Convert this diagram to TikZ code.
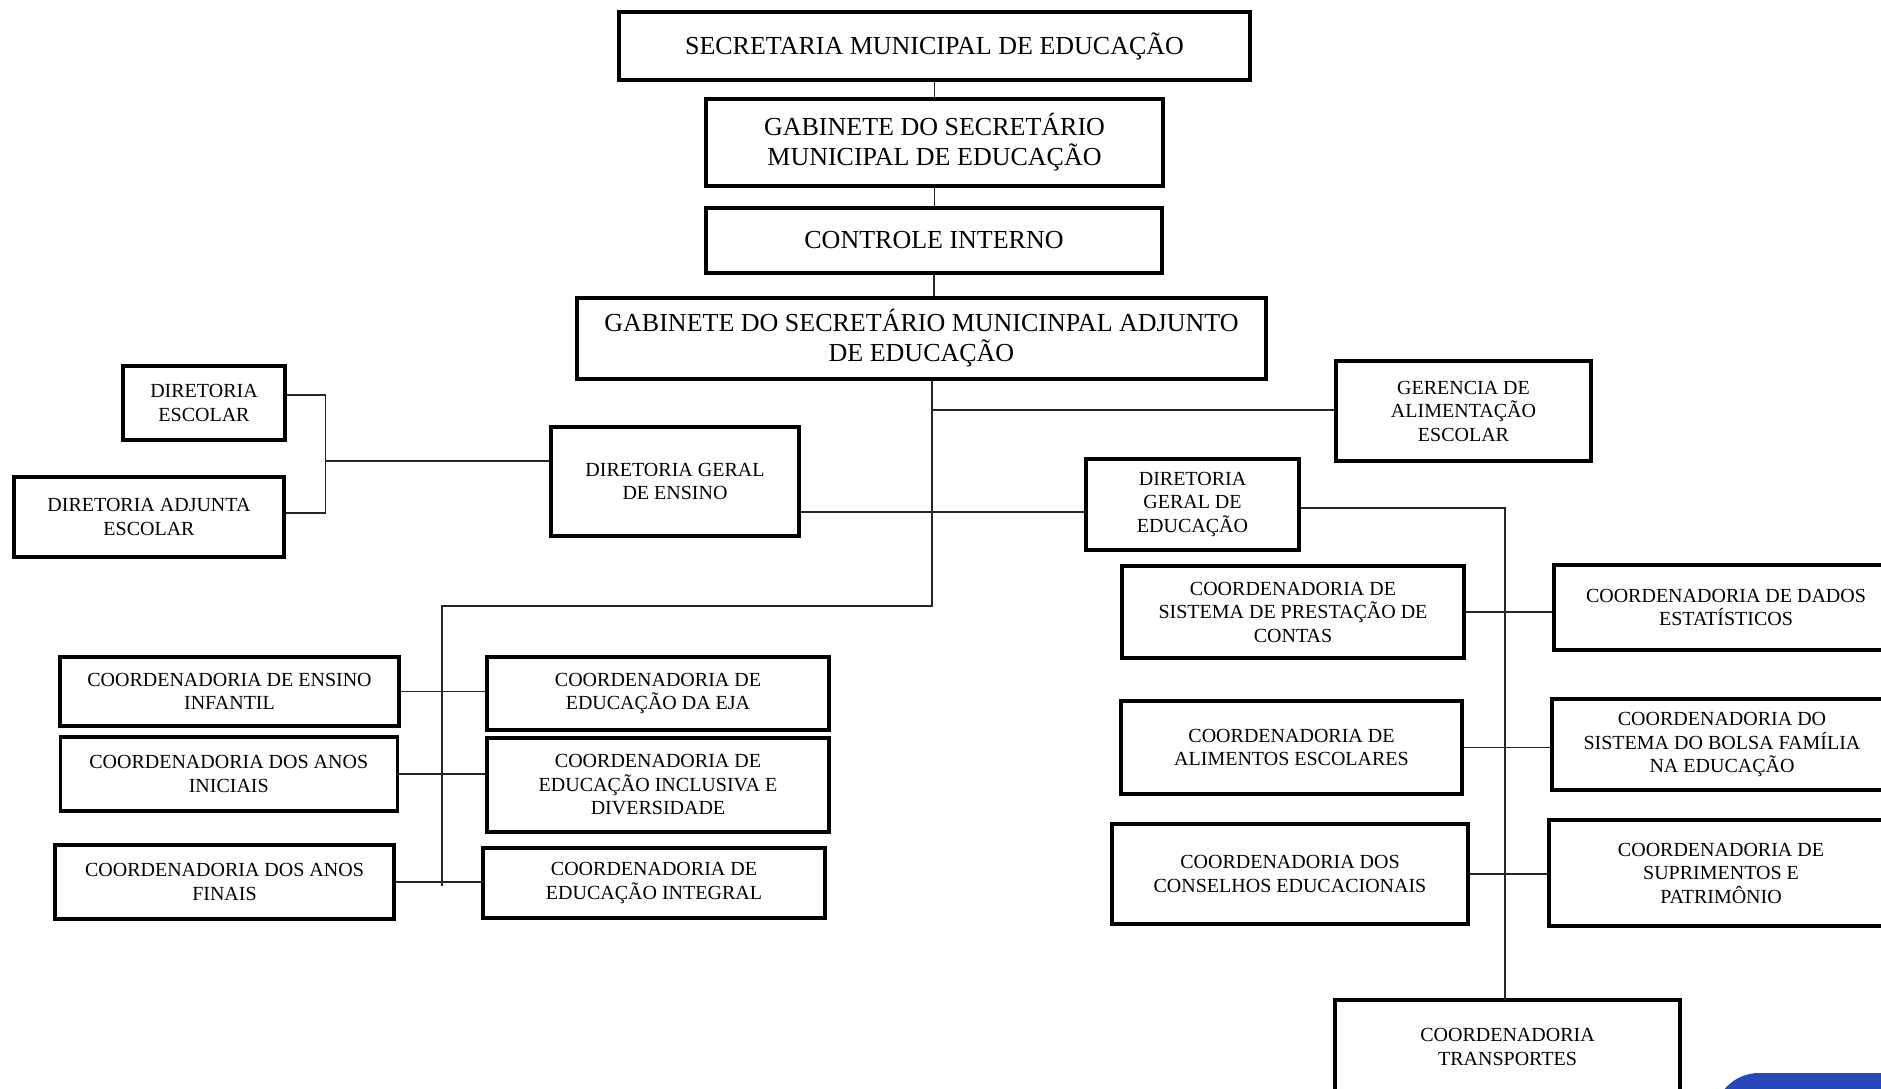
\documentclass[tikz,border=0pt]{standalone}
\usepackage{fontspec}
\setmainfont{Liberation Serif}
\definecolor{blobblue}{RGB}{40,72,185}
\tikzset{
  box/.style={draw=black, line width=3.5pt, fill=white, align=center, inner sep=0pt,
    font=\fontsize{20}{23.5}\selectfont},
  bigbox/.style={box, font=\fontsize{26}{30}\selectfont},
  conn/.style={line width=1.7pt, draw=black!85},
}
\begin{document}
\begin{tikzpicture}[x=1pt,y=-1pt]
\useasboundingbox (0,0) rectangle (1881,1089);
\clip (0,0) rectangle (1881,1089);
\fill[white] (0,0) rectangle (1881,1089);

% top chain
\node[bigbox, minimum width=631pt, minimum height=68pt] (sec) at (934.5,46) {SECRETARIA MUNICIPAL DE EDUCAÇÃO};
\node[bigbox, minimum width=457pt, minimum height=87pt] (gab) at (934.5,142.5) {GABINETE DO SECRETÁRIO\\MUNICIPAL DE EDUCAÇÃO};
\node[bigbox, minimum width=456pt, minimum height=65pt] (ctrl) at (934,240.5) {CONTROLE INTERNO};
\node[bigbox, minimum width=689pt, minimum height=81pt] (gabadj) at (921.5,338.5) {GABINETE DO SECRETÁRIO MUNICINPAL ADJUNTO\\DE EDUCAÇÃO};

% left upper
\node[box, minimum width=162pt, minimum height=74pt] (dirEsc) at (204,403) {DIRETORIA\\ESCOLAR};
\node[box, minimum width=270pt, minimum height=80pt] (dirAdj) at (149,517) {DIRETORIA ADJUNTA\\ESCOLAR};
\node[box, minimum width=248pt, minimum height=109pt] (dge) at (675,481.5) {DIRETORIA GERAL\\DE ENSINO};

% right upper
\node[box, minimum width=255pt, minimum height=100pt] (ger) at (1463.5,411) {GERENCIA DE\\ALIMENTAÇÃO\\ESCOLAR};
\node[box, minimum width=213pt, minimum height=91pt] (dged) at (1192.5,504.5) {DIRETORIA\\GERAL DE\\EDUCAÇÃO};

% left coordinations
\node[box, minimum width=339pt, minimum height=69pt] (inf) at (229.5,691.5) {COORDENADORIA DE ENSINO\\INFANTIL};
\node[box, minimum width=337pt, minimum height=74pt] (ini) at (228.75,774) {COORDENADORIA DOS ANOS\\INICIAIS};
\node[box, minimum width=339pt, minimum height=74pt] (fin) at (224.5,882) {COORDENADORIA DOS ANOS\\FINAIS};
\node[box, minimum width=342pt, minimum height=73pt] (eja) at (658,693.5) {COORDENADORIA DE\\EDUCAÇÃO DA EJA};
\node[box, minimum width=342pt, minimum height=94pt] (incl) at (658,785) {COORDENADORIA DE\\EDUCAÇÃO INCLUSIVA E\\DIVERSIDADE};
\node[box, minimum width=342pt, minimum height=70pt] (integ) at (654,883) {COORDENADORIA DE\\EDUCAÇÃO INTEGRAL};

% right coordinations
\node[box, minimum width=342pt, minimum height=92pt] (prest) at (1293,612) {COORDENADORIA DE\\SISTEMA DE PRESTAÇÃO DE\\CONTAS};
\node[box, minimum width=344pt, minimum height=85pt] (dados) at (1726,607.5) {COORDENADORIA DE DADOS\\ESTATÍSTICOS};
\node[box, minimum width=341pt, minimum height=93pt] (alim) at (1291.5,747.5) {COORDENADORIA DE\\ALIMENTOS ESCOLARES};
\node[box, minimum width=340pt, minimum height=91pt] (bolsa) at (1722,744.5) {COORDENADORIA DO\\SISTEMA DO BOLSA FAMÍLIA\\NA EDUCAÇÃO};
\node[box, minimum width=356pt, minimum height=100pt] (cons) at (1290,874) {COORDENADORIA DOS\\CONSELHOS EDUCACIONAIS};
\node[box, minimum width=344pt, minimum height=106pt] (sup) at (1721,873) {COORDENADORIA DE\\SUPRIMENTOS E\\PATRIMÔNIO};
\node[box, minimum width=345pt, minimum height=94pt] (transp) at (1507.5,1047) {COORDENADORIA\\TRANSPORTES};

% junction coordinates
\coordinate (mvb) at (932,606);
\coordinate (gj) at (932,410);
\coordinate (hl) at (932,512);
\coordinate (lvb) at (442,606);
\coordinate (lve) at (442,886);
\coordinate (bT) at (325.5,395);
\coordinate (bB) at (325.5,513);
\coordinate (bM) at (325.5,461);
\coordinate (rv) at (1505,508);
\coordinate (rvb) at (1505,1000);

% connectors
\draw[conn] (sec.south -| gab.north) -- (gab.north);
\draw[conn] (gab.south) -- (ctrl.north -| gab.south);
\draw[conn] (ctrl.south) -- (gabadj.north -| ctrl.south);
\draw[conn] (gabadj.south -| mvb) -- (mvb) -- (lvb) -- (lve);
\draw[conn] (gj) -- (ger.west |- gj);
\draw[conn] (dge.east |- hl) -- (dged.west |- hl);
\draw[conn] (dirEsc.east |- bT) -- (bT) -- (bB) -- (dirAdj.east |- bB);
\draw[conn] (bM) -- (dge.west |- bM);
\draw[conn] (inf.east) -- (inf.east -| eja.west);
\draw[conn] (ini.east) -- (ini.east -| incl.west);
\draw[conn] (fin.east) -- (fin.east -| integ.west);
\draw[conn] (dged.east |- rv) -- (rv) -- (rvb);
\draw[conn] (prest.east) -- (prest.east -| dados.west);
\draw[conn] (alim.east) -- (alim.east -| bolsa.west);
\draw[conn] (cons.east) -- (cons.east -| sup.west);

% blue shape in the corner
\fill[blobblue, rounded corners=45pt] (1714,1140) rectangle (1960,1073);
\end{tikzpicture}
\end{document}
